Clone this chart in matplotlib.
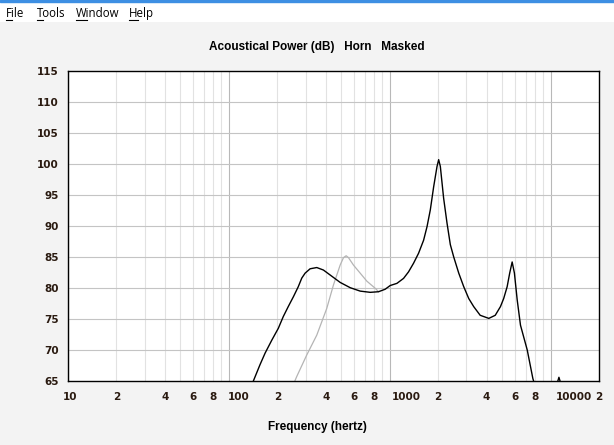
import numpy as np
import matplotlib
matplotlib.use("Agg")
import matplotlib.pyplot as plt
import matplotlib.transforms as mtransforms

# ---- data ----
horn_freq = [120, 142, 156, 168, 185, 203, 218, 234, 252, 270, 284, 298, 320, 352, 387, 426,
             492, 568, 655, 757, 852, 937, 1007, 1109, 1219, 1309, 1407, 1511, 1624, 1706,
             1788, 1875, 1968, 2015, 2064, 2163, 2270, 2381, 2500, 2686, 2886, 3100, 3327,
             3650, 4130, 4530, 4880, 5110, 5370, 5570, 5770, 5960, 6200, 6500, 7160, 7760,
             8500, 10000, 10950, 11270, 11600, 12500, 14000]
horn_db = [62, 65.0, 67.6, 69.5, 71.6, 73.5, 75.4, 77.0, 78.6, 80.2, 81.6, 82.4, 83.1, 83.3, 82.9, 82.1,
           80.9, 80.05, 79.5, 79.3, 79.4, 79.8, 80.4, 80.75, 81.55, 82.6, 84.0, 85.6, 87.7, 89.9,
           92.6, 96.3, 99.6, 100.7, 99.6, 94.5, 90.5, 87.0, 85.0, 82.4, 80.2, 78.3, 77.0,
           75.6, 75.1, 75.6, 77.0, 78.3, 80.2, 82.4, 84.2, 82.4, 78.1, 74.0, 70.0, 65.4,
           62, 62, 64.5, 65.6, 64.5, 62, 58]

masked_freq = [230, 264, 305, 352, 406, 447, 492, 516, 536, 554, 595, 655, 721, 813, 852]
masked_db = [62, 65.7, 69.2, 72.4, 76.7, 80.5, 83.7, 84.9, 85.2, 84.9, 83.7, 82.4, 81.1, 79.95, 79.4]

y_ticks = [65, 70, 75, 80, 85, 90, 95, 100, 105, 110, 115]
x_major = [10, 100, 1000, 10000]
x_label_pos = [10, 20, 40, 60, 80, 100, 200, 400, 600, 800, 1000, 2000, 4000, 6000, 8000, 10000, 20000]
x_label_txt = ["10", "2", "4", "6", "8", "100", "2", "4", "6", "8", "1000", "2", "4", "6", "8", "10000", "2"]

title = "Acoustical Power (dB)   Horn   Masked"
xlabel = "Frequency (hertz)"
menu_items = ["File", "Tools", "Window", "Help"]

# ---- figure ----
W, H = 614, 445
fig = plt.figure(figsize=(W / 100, H / 100), dpi=100)
fig.patch.set_facecolor("#f3f3f3")

# menu bar
bar = fig.add_axes([0, 1 - 22 / H, 1, 22 / H])
bar.set_xlim(0, W)
bar.set_ylim(22, 0)
bar.axis("off")
bar.add_patch(plt.Rectangle((0, 0), W, 22, color="white"))
bar.add_patch(plt.Rectangle((0, 0), W, 2, color="#3d8fe3"))
menu_x = [6, 37, 76, 129]
for mx, item in zip(menu_x, menu_items):
    bar.text(mx, 13.5, item, fontsize=8.3, family="Open Sans", va="center", ha="left", color="black")
r = fig.canvas.get_renderer()
for mx, item in zip(menu_x, menu_items):
    tmp = bar.text(mx, 13.5, item[0], fontsize=8.3, family="Open Sans", va="center", ha="left", alpha=0)
    bb = tmp.get_window_extent(renderer=r)
    bar.plot([mx, mx + bb.width], [19.5, 19.5], color="black", lw=0.8)

left, right = 68, 599
top, bottom = 71, 381
ax = fig.add_axes([left / W, 1 - bottom / H, (right - left) / W, (bottom - top) / H])
ax.set_facecolor("white")
ax.set_xscale("log")
ax.set_xlim(10, 20000)
ax.set_ylim(65, 115)

# grid
minor_pos = [m * 10 ** e for e in range(1, 5) for m in range(2, 10) if m * 10 ** e < 20000]
for f in minor_pos:
    ax.axvline(f, color="#e2e2e2", lw=0.8, zorder=0)
for f in x_major:
    ax.axvline(f, color="#b8b8b8", lw=0.8, zorder=0.5)
for y in y_ticks[1:-1]:
    ax.axhline(y, color="#c4c4c4", lw=0.8, zorder=0.5)

ax.plot(masked_freq, masked_db, color="#b4b4b4", lw=0.9, zorder=2)
ax.plot(horn_freq, horn_db, color="black", lw=1.0, zorder=3)

ax.set_xticks([])
ax.minorticks_off()
ax.set_yticks(y_ticks)
ax.set_yticklabels([str(v) for v in y_ticks])
ax.tick_params(axis="y", length=0, pad=6.5, labelsize=7.5, labelcolor="#2a1a10")
for lab in ax.get_yticklabels():
    lab.set_fontweight("bold")
    lab.set_family("DejaVu Sans")

# x tick labels drawn manually (multi-digit labels start near their line)
tr = mtransforms.blended_transform_factory(ax.transData, ax.transAxes)
for pos, txt in zip(x_label_pos, x_label_txt):
    if len(txt) == 1:
        ha, dx = "center", 0
    elif txt == "10":
        ha, dx = "center", 2
    else:
        ha, dx = "left", {3: -1, 4: 2, 5: 5}[len(txt)]
    off = mtransforms.offset_copy(tr, fig=fig, x=dx, y=-16, units="dots")
    ax.text(pos, 0, txt, transform=off, ha=ha, va="center", fontsize=7.5,
            fontweight="bold", family="DejaVu Sans", color="#2a1a10", clip_on=False)

for s in ax.spines.values():
    s.set_color("black")
    s.set_linewidth(1.0)

fig.text(317 / W, 1 - 47 / H, title, ha="center", va="center", fontsize=8.5,
         fontweight="bold", family="Liberation Sans")
fig.text(317 / W, 1 - 427 / H, xlabel, ha="center", va="center", fontsize=8.5,
         fontweight="bold", family="Liberation Sans")

fig.savefig("out.png", dpi=100, facecolor=fig.get_facecolor())
